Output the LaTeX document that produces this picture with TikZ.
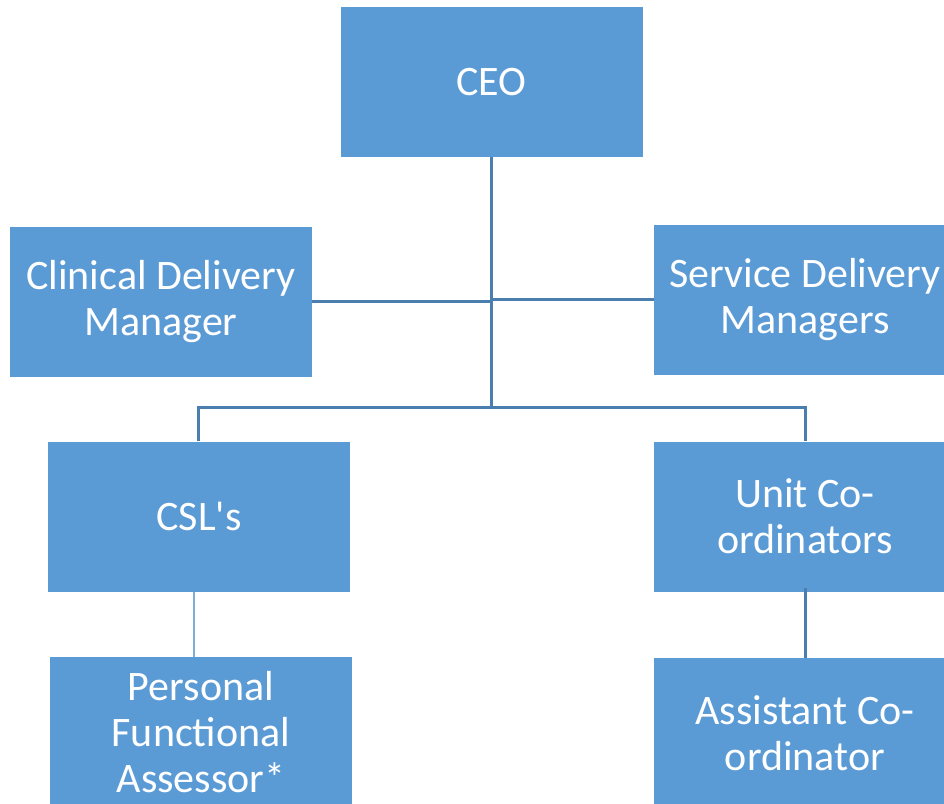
\documentclass[tikz,border=0pt]{standalone}
\usepackage{fontspec}
\setmainfont{Carlito}
\newfontfamily\rolefont{Carlito}
\usepackage{tikz}

\definecolor{boxblue}{HTML}{5B9BD5}
\definecolor{lineblue}{HTML}{4A7EAE}
\definecolor{thinblue}{HTML}{7FAEDB}

\tikzset{
  role/.style={fill=boxblue, text=white, minimum width=302, minimum height=150,
    inner sep=0pt, align=center,
    font=\rolefont\fontsize{42}{46}\selectfont},
  link/.style={draw=lineblue, line width=3pt},
  thinlink/.style={draw=thinblue, line width=1.3pt}
}

\begin{document}
\begin{tikzpicture}[x=1pt, y=-1pt]
    \useasboundingbox (0,0) rectangle (944,803);
    \clip (0,0) rectangle (944,803);
% boxes
\node[role] (ceo) at (491.5, 82) {CEO}; % top
\node[role] (cdm) at (161, 301.5) {Clinical Delivery\\Manager}; % left
\node[role] (sdm) at (805, 299.5) {Service Delivery\\Managers}; % right
\node[role] (csl) at (199, 516.5) {CSL's}; % CSL
\node[role] (unit) at (805, 516.5) {Unit Co-\\ordinators}; % unit
\node[role] (pfa) at (201, 732) {Personal\\Functional\\Assessor*}; % assessor
\node[role] (asst) at (805, 733) {Assistant Co-\\ordinator}; % assistant
\coordinate (bus) at (491.5, 407); % bus
% links
\draw[link] (ceo.south) -- (bus); % ceo
\draw[link] (cdm.east) -- (cdm.east -| ceo.south); % cdm
\draw[link] (sdm.west) -- (sdm.west -| ceo.south); % sdm
\draw[link] ([xshift=-1]csl.north) |- (bus) -| (unit.north); % bus
\draw[thinlink] ([xshift=-5]csl.south) -- ([xshift=-5]csl.south |- pfa.north); % csl-pfa
\draw[link] ([yshift=4]unit.south) -- (asst.north); % unit-asst

    \end{tikzpicture}
\end{document}
